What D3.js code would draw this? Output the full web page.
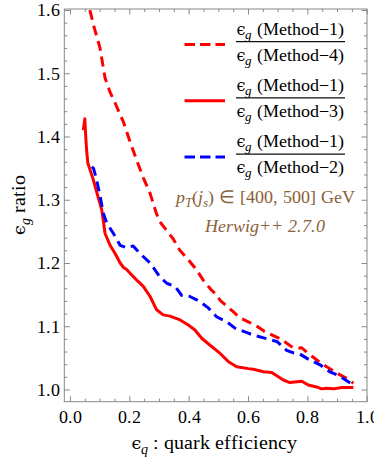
<!DOCTYPE html>
<html>

<head>
  <meta charset="utf-8">
  <script src="https://d3js.org/d3.v7.min.js"></script>
  <style>
    @font-face { font-family: "ChartSerif"; font-style: normal; src: local("Liberation Serif"), local("LiberationSerif"), local("LiberationSerif-Regular"); }
    @font-face { font-family: "ChartSerif"; font-style: italic; src: local("Liberation Serif Italic"), local("LiberationSerif-Italic"); }
  </style>
</head>

<body style="margin:0">

  <svg id="chart" width="374" height="461" style="font-family: ChartSerif, 'Liberation Serif', 'Times New Roman', serif;"></svg>

  <script>

    // method 1 / method 4 (red dashed)
    const m4Eff = [0.060, 0.067, 0.080, 0.101, 0.118, 0.135, 0.152, 0.180, 0.200, 0.225, 0.247, 0.270, 0.290, 0.303, 0.325, 0.348, 0.370, 0.399, 0.425, 0.449, 0.475, 0.494, 0.506, 0.528, 0.550, 0.573, 0.601, 0.630, 0.655, 0.673, 0.700, 0.719, 0.740, 0.753, 0.765, 0.781, 0.800, 0.820, 0.845, 0.865, 0.890, 0.910, 0.935, 0.955];
    const m4Ratio = [1.625, 1.600, 1.575, 1.540, 1.493, 1.470, 1.453, 1.423, 1.395, 1.362, 1.335, 1.310, 1.280, 1.265, 1.252, 1.238, 1.220, 1.205, 1.190, 1.173, 1.158, 1.150, 1.141, 1.132, 1.123, 1.113, 1.107, 1.100, 1.092, 1.088, 1.082, 1.077, 1.070, 1.066, 1.065, 1.066, 1.058, 1.051, 1.042, 1.036, 1.029, 1.023, 1.017, 1.010];

    // method 1 / method 3 (red solid)
    const m3Eff = [0.045, 0.050, 0.053, 0.056, 0.060, 0.067, 0.079, 0.090, 0.101, 0.107, 0.112, 0.118, 0.135, 0.152, 0.169, 0.180, 0.190, 0.208, 0.225, 0.247, 0.270, 0.292, 0.314, 0.337, 0.371, 0.399, 0.421, 0.444, 0.472, 0.506, 0.534, 0.562, 0.601, 0.618, 0.652, 0.680, 0.719, 0.741, 0.781, 0.803, 0.831, 0.848, 0.865, 0.888, 0.916, 0.955];
    const m3Ratio = [1.410, 1.428, 1.400, 1.379, 1.358, 1.348, 1.331, 1.312, 1.294, 1.284, 1.268, 1.247, 1.228, 1.215, 1.200, 1.193, 1.190, 1.181, 1.173, 1.163, 1.147, 1.126, 1.118, 1.116, 1.110, 1.102, 1.094, 1.081, 1.070, 1.057, 1.044, 1.036, 1.033, 1.032, 1.028, 1.027, 1.015, 1.011, 1.013, 1.007, 1.004, 1.001, 1.002, 1.001, 1.003, 1.003];

    // method 1 / method 2 (blue dashed)
    const m2Eff = [0.073, 0.079, 0.090, 0.101, 0.112, 0.124, 0.146, 0.169, 0.191, 0.213, 0.236, 0.270, 0.303, 0.326, 0.354, 0.376, 0.404, 0.438, 0.466, 0.494, 0.528, 0.556, 0.601, 0.618, 0.673, 0.697, 0.730, 0.753, 0.775, 0.803, 0.843, 0.876, 0.910, 0.955];
    const m2Ratio = [1.352, 1.350, 1.331, 1.307, 1.279, 1.263, 1.247, 1.228, 1.224, 1.227, 1.215, 1.200, 1.178, 1.168, 1.163, 1.149, 1.147, 1.139, 1.129, 1.115, 1.107, 1.097, 1.089, 1.086, 1.079, 1.076, 1.062, 1.058, 1.056, 1.048, 1.039, 1.028, 1.021, 1.007];

    const xTicks = [0, 0.2, 0.4, 0.6, 0.8, 1.0];
    const yTicks = [1.0, 1.1, 1.2, 1.3, 1.4, 1.5, 1.6];
    const legendDenoms = ["4", "3", "2"];

    const EPS = "\u03F5";
    const FONT = "ChartSerif, 'Liberation Serif', 'Times New Roman', serif";
    const EPSFONT = "'DejaVu Serif', serif";
    const svg = d3.select("#chart");
    const frame = { left: 64.3, right: 367, top: 9, bottom: 401.7 };

    const x = d3.scaleLinear().domain([0, 1]).range([70, 366.7]);
    const y = d3.scaleLinear().domain([1, 1.6]).range([389.5, 10]);

    const xMinor = d3.range(0, 1.001, 0.05);
    const yMinor = d3.range(0.98, 1.601, 0.02);

    // ticks, all sides, pointing inward
    function drawTicks(axis, transform, labels) {
      const g = svg.append("g").attr("transform", transform).call(axis);
      g.attr("font-family", FONT).attr("font-size", 18);
      g.select(".domain").remove();
      g.selectAll("line").attr("stroke", "#888");
      if (!labels) g.selectAll("text").remove();
      return g;
    }

    const minorX = xMinor.filter(v => !xTicks.some(t => Math.abs(t - v) < 1e-6));
    const minorY = yMinor.filter(v => !yTicks.some(t => Math.abs(t - v) < 1e-6) && v > 0.981);

    drawTicks(d3.axisBottom(x).tickValues(xTicks).tickSize(-5.5).tickPadding(8.5).tickFormat(d3.format(".1f")), `translate(0,${frame.bottom})`, true);
    drawTicks(d3.axisBottom(x).tickValues(minorX).tickSize(-3), `translate(0,${frame.bottom})`, false);
    drawTicks(d3.axisTop(x).tickValues(xTicks).tickSize(-5.5), `translate(0,${frame.top})`, false);
    drawTicks(d3.axisTop(x).tickValues(minorX).tickSize(-3), `translate(0,${frame.top})`, false);

    drawTicks(d3.axisLeft(y).tickValues(yTicks).tickSize(-5.5).tickPadding(4.5).tickFormat(d3.format(".1f")), `translate(${frame.left},0)`, true);
    drawTicks(d3.axisLeft(y).tickValues(minorY).tickSize(-3), `translate(${frame.left},0)`, false);
    drawTicks(d3.axisRight(y).tickValues(yTicks).tickSize(-5.5), `translate(${frame.right},0)`, false);
    drawTicks(d3.axisRight(y).tickValues(minorY).tickSize(-3), `translate(${frame.right},0)`, false);

    svg.append("rect")
      .attr("x", frame.left).attr("y", frame.top)
      .attr("width", frame.right - frame.left).attr("height", frame.bottom - frame.top)
      .attr("fill", "none").attr("stroke", "#888");

    svg.append("clipPath").attr("id", "plotclip").append("rect")
      .attr("x", frame.left).attr("y", frame.top)
      .attr("width", frame.right - frame.left).attr("height", frame.bottom - frame.top);

    const line = d3.line().x(d => x(d[0])).y(d => y(d[1]));
    const series = [
      { eff: m4Eff, ratio: m4Ratio, color: "#ff0000", dash: "10,6" },
      { eff: m3Eff, ratio: m3Ratio, color: "#ff0000", dash: null },
      { eff: m2Eff, ratio: m2Ratio, color: "#0000ff", dash: "10,6" }
    ];

    const plot = svg.append("g").attr("clip-path", "url(#plotclip)");
    series.forEach(s => {
      plot.append("path")
        .datum(d3.zip(s.eff, s.ratio))
        .attr("fill", "none")
        .attr("stroke", s.color)
        .attr("stroke-width", 3)
        .attr("stroke-linejoin", "round")
        .attr("stroke-dasharray", s.dash)
        .attr("d", line);
    });

    // legend
    series.forEach((s, i) => {
      const top = 35 + i * 56.2;
      svg.append("line")
        .attr("x1", 184.5).attr("x2", 225)
        .attr("y1", top + 9.5).attr("y2", top + 9.5)
        .attr("stroke", s.color).attr("stroke-width", 3)
        .attr("stroke-dasharray", s.dash ? "10.5,5" : null);

      [["1", top], [legendDenoms[i], top + 25.7]].forEach(([m, base]) => {
        const t = svg.append("text")
          .attr("x", 290.5).attr("y", base)
          .attr("text-anchor", "middle")
          .attr("font-size", 18);
        t.append("tspan").attr("class", "eps").attr("font-size", 16).text(EPS);
        t.append("tspan").attr("dy", 4).attr("font-size", 13).attr("font-style", "italic").text("g");
        t.append("tspan").attr("dy", -4).text(" (Method\u2212" + m + ")");
      });

      svg.append("line")
        .attr("x1", 236).attr("x2", 345)
        .attr("y1", top + 6.7).attr("y2", top + 6.7)
        .attr("stroke", "#111").attr("stroke-width", 1.3);
    });

    // annotation
    const brown = "#8a6138";
    const ann = svg.append("text")
      .attr("x", 265.5).attr("y", 203)
      .attr("text-anchor", "middle")
      .attr("font-size", 18).attr("fill", brown);
    ann.append("tspan").attr("font-style", "italic").text("p");
    ann.append("tspan").attr("dy", 4).attr("font-size", 13).attr("font-style", "italic").text("T");
    ann.append("tspan").attr("dy", -4).text("(");
    ann.append("tspan").attr("font-style", "italic").text("j");
    ann.append("tspan").attr("dy", 4).attr("font-size", 13).attr("font-style", "italic").text("s");
    ann.append("tspan").attr("dy", -4).text(") \u2208 [400, 500] GeV");

    svg.append("text")
      .attr("x", 265).attr("y", 231.7)
      .attr("text-anchor", "middle")
      .attr("font-size", 18)
      .attr("font-style", "italic").attr("fill", brown)
      .text("Herwig++ 2.7.0");

    // axis titles
    const yTitle = svg.append("text")
      .attr("transform", "translate(25,205) rotate(-90)")
      .attr("text-anchor", "middle")
      .attr("font-size", 20);
    yTitle.append("tspan").attr("class", "eps").attr("font-size", 17.5).text(EPS);
    yTitle.append("tspan").attr("dy", 4.5).attr("font-size", 14).attr("font-style", "italic").text("g");
    yTitle.append("tspan").attr("dy", -4.5).text(" ratio");

    const xTitle = svg.append("text")
      .attr("x", 214.5).attr("y", 449)
      .attr("text-anchor", "middle")
      .attr("font-size", 20);
    xTitle.append("tspan").attr("class", "eps").attr("font-size", 17.5).text(EPS);
    xTitle.append("tspan").attr("dy", 4.5).attr("font-size", 14).attr("font-style", "italic").text("q");
    xTitle.append("tspan").attr("dy", -4.5).text(" :  quark efficiency");

    // serif face on every text, epsilon from DejaVu Serif
    svg.selectAll("text").attr("font-family", FONT).style("font-family", FONT);
    svg.selectAll("tspan.eps").attr("font-family", EPSFONT).style("font-family", EPSFONT);

  </script>

</body>

</html>
